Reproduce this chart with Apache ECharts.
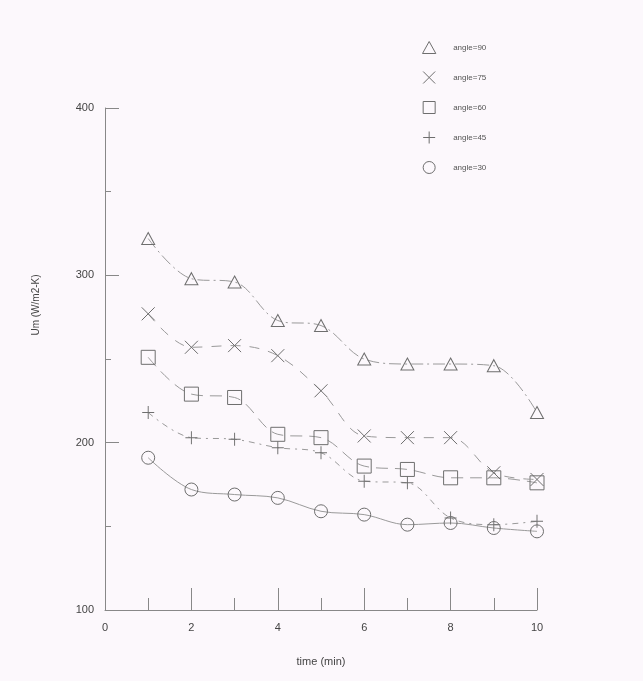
<!DOCTYPE html>
<html><head><meta charset="utf-8">
<script src="https://cdn.jsdelivr.net/npm/echarts@6/dist/echarts.min.js"></script>
<style>html,body{margin:0;padding:0;background:#fcf8fc;}#c{width:643px;height:681px;}</style>
</head><body><div id="c"></div>
<script>
const times = [1, 2, 3, 4, 5, 6, 7, 8, 9, 10];
const seriesNames = ['angle=90', 'angle=75', 'angle=60', 'angle=45', 'angle=30'];
const angle90 = [322, 298, 296, 273, 270, 250, 247, 247, 246, 218];
const angle75 = [277, 257, 258, 252, 231, 204, 203, 203, 182, 178];
const angle60 = [251, 229, 227, 205, 203, 186, 184, 179, 179, 176];
const angle45 = [218, 203, 202, 197, 194, 177, 176, 155, 151, 153];
const angle30 = [191, 172, 169, 167, 159, 157, 151, 152, 149, 147];
const xTicks = [0, 2, 4, 6, 8, 10];
const yTicks = [100, 200, 300, 400];

const allValues = [angle90, angle75, angle60, angle45, angle30];
const symbols = [
  'path://M5,0L10,9L0,9Z',
  'path://M0,0L10,10M10,0L0,10',
  'path://M0,0H10V10H0Z',
  'path://M5,0V10M0,5H10',
  'circle'
];
const sizes = [[13,12],[13,13],[14,14],[12,13],[13,13]];
const dashes = [[12,4,2,4],[10,9],[12,7],[6,5,2,5],'solid'];
const markColor = '#6e6e6e';
const lineColor = '#9a9a9a';

const series = seriesNames.map((n, i) => ({
  name: n,
  type: 'line',
  smooth: 0.35,
  data: times.map((t, j) => [t, allValues[i][j]]),
  symbol: symbols[i],
  symbolSize: sizes[i],
  itemStyle: {color: 'transparent', borderColor: markColor, borderWidth: 1},
  lineStyle: {color: lineColor, width: 1, type: dashes[i]},
  z: 5 - i
}));

const chart = echarts.init(document.getElementById('c'), null, {renderer: 'canvas'});
chart.setOption({
  backgroundColor: '#fcf8fc',
  animation: false,
  textStyle: {fontFamily: 'Liberation Sans, Arial, sans-serif'},
  grid: {left: 105, right: 106, top: 108, bottom: 71},
  legend: {
    orient: 'vertical',
    left: 417,
    top: 36,
    itemGap: 17,
    itemWidth: 14,
    itemHeight: 12,
    textStyle: {fontSize: 8, color: '#555', padding: [0, 0, 0, 12]},
    data: seriesNames.map((n, i) => ({
      name: n,
      icon: symbols[i],
      itemStyle: {color: 'transparent', borderColor: markColor, borderWidth: 1}
    }))
  },
  xAxis: {
    type: 'value',
    min: 0, max: 10, interval: 2,
    name: 'time (min)',
    nameLocation: 'middle',
    nameGap: 46,
    nameTextStyle: {fontSize: 11, color: '#444'},
    axisLine: {lineStyle: {color: '#888', width: 1}},
    axisTick: {inside: true, length: 22, lineStyle: {color: '#888'}},
    minorTick: {show: true, splitNumber: 2, length: 12, lineStyle: {color: '#888'}},
    axisLabel: {fontSize: 11, color: '#444', margin: 12,
      formatter: v => xTicks.includes(v) ? String(v) : ''},
    splitLine: {show: false}
  },
  yAxis: {
    type: 'value',
    min: 100, max: 400, interval: 100,
    name: 'Um (W/m2-K)',
    nameLocation: 'middle',
    nameGap: 64,
    nameRotate: 90,
    nameTextStyle: {fontSize: 10, color: '#444', padding: [0, 0, 0, 108]},
    axisLine: {show: true, lineStyle: {color: '#888', width: 1}},
    axisTick: {show: true, inside: true, length: 14, lineStyle: {color: '#888'}},
    minorTick: {show: true, splitNumber: 2, length: 6, lineStyle: {color: '#888'}},
    axisLabel: {fontSize: 11, color: '#444', margin: 11,
      formatter: v => yTicks.includes(v) ? String(v) : ''},
    splitLine: {show: false}
  },
  series: series
});
</script>
</body></html>
